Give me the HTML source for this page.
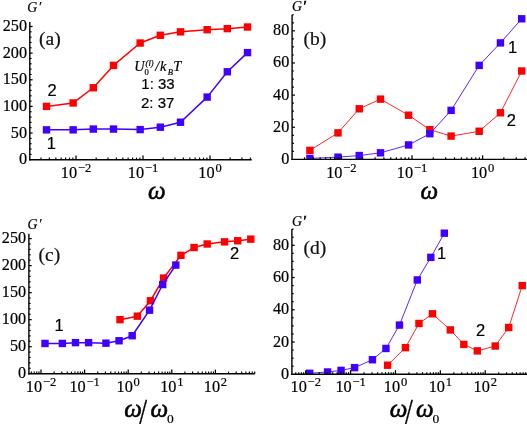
<!DOCTYPE html>
<html><head><meta charset="utf-8"><title>G' vs omega</title>
<style>
html,body{margin:0;padding:0;background:#fff;}
svg{display:block;filter:blur(0.42px)}
text{stroke:#000;stroke-width:0.2px}
.tk{font-family:"Liberation Serif",serif;font-size:16.2px;fill:#000}
.tx{font-family:"Liberation Serif",serif;font-size:16.3px;fill:#000}
.sp{font-size:12.5px}
.sn{font-family:"Liberation Sans",sans-serif;font-size:15px;fill:#000}
.sl{font-family:"Liberation Sans",sans-serif;font-size:16.5px;fill:#000}
.pl{font-family:"Liberation Serif",serif;font-size:19.5px;fill:#111}
.gp{font-family:"Liberation Serif",serif;font-style:italic;font-size:13.8px;fill:#000}
.pr{stroke:#000;stroke-width:0.7px}
.fm{font-family:"Liberation Serif",serif;font-style:italic;font-size:14.3px;fill:#000}
.fs{font-family:"Liberation Serif",serif;font-style:italic;font-size:8.6px;fill:#000}
.om{font-family:"Liberation Serif",serif;font-style:italic;font-size:25px;fill:#000;stroke:#000;stroke-width:0.55px}
.oms{font-family:"Liberation Serif",serif;font-size:13.5px;fill:#000}
.sla{font-family:"Liberation Serif",serif;font-size:35px;fill:#000;stroke:#000;stroke-width:0.4px}
</style></head><body>
<svg width="527" height="424" viewBox="0 0 527 424">
<rect width="527" height="424" fill="#fff"/>
<polyline points="46.50,106.42 73.16,102.96 93.33,87.77 113.50,65.39 140.16,43.02 160.33,35.29 180.50,31.83 207.16,29.70 227.33,28.63 247.50,27.03" fill="none" stroke="#ff0000" stroke-width="1.5" stroke-linejoin="round"/>
<rect x="42.80" y="102.72" width="7.4" height="7.4" fill="#ff0000"/>
<rect x="69.46" y="99.26" width="7.4" height="7.4" fill="#ff0000"/>
<rect x="89.63" y="84.07" width="7.4" height="7.4" fill="#ff0000"/>
<rect x="109.80" y="61.69" width="7.4" height="7.4" fill="#ff0000"/>
<rect x="136.46" y="39.32" width="7.4" height="7.4" fill="#ff0000"/>
<rect x="156.63" y="31.59" width="7.4" height="7.4" fill="#ff0000"/>
<rect x="176.80" y="28.13" width="7.4" height="7.4" fill="#ff0000"/>
<rect x="203.46" y="26.00" width="7.4" height="7.4" fill="#ff0000"/>
<rect x="223.63" y="24.93" width="7.4" height="7.4" fill="#ff0000"/>
<rect x="243.80" y="23.33" width="7.4" height="7.4" fill="#ff0000"/>
<polyline points="46.50,129.86 73.16,129.86 93.33,129.06 113.50,129.06 140.16,129.60 160.33,127.20 180.50,122.24 207.16,97.10 227.33,71.79 247.50,52.61" fill="none" stroke="#4000ff" stroke-width="1.5" stroke-linejoin="round"/>
<rect x="42.80" y="126.16" width="7.4" height="7.4" fill="#4000ff"/>
<rect x="69.46" y="126.16" width="7.4" height="7.4" fill="#4000ff"/>
<rect x="89.63" y="125.36" width="7.4" height="7.4" fill="#4000ff"/>
<rect x="109.80" y="125.36" width="7.4" height="7.4" fill="#4000ff"/>
<rect x="136.46" y="125.90" width="7.4" height="7.4" fill="#4000ff"/>
<rect x="156.63" y="123.50" width="7.4" height="7.4" fill="#4000ff"/>
<rect x="176.80" y="118.54" width="7.4" height="7.4" fill="#4000ff"/>
<rect x="203.46" y="93.40" width="7.4" height="7.4" fill="#4000ff"/>
<rect x="223.63" y="68.09" width="7.4" height="7.4" fill="#4000ff"/>
<rect x="243.80" y="48.91" width="7.4" height="7.4" fill="#4000ff"/>
<rect x="29.8" y="159.7" width="227.89999999999998" height="6" fill="#fff"/>
<line x1="29.8" y1="22" x2="29.8" y2="160.39999999999998" stroke="#000" stroke-width="1.4"/>
<line x1="29.1" y1="159.7" x2="251.7" y2="159.7" stroke="#000" stroke-width="1.4"/>
<text x="27.00" y="164.20" text-anchor="end" class="tk">0</text>
<line x1="29.8" y1="154.37" x2="31.60" y2="154.37" stroke="#000" stroke-width="1.15"/>
<line x1="29.8" y1="149.04" x2="31.60" y2="149.04" stroke="#000" stroke-width="1.15"/>
<line x1="29.8" y1="143.72" x2="31.60" y2="143.72" stroke="#000" stroke-width="1.15"/>
<line x1="29.8" y1="138.39" x2="31.60" y2="138.39" stroke="#000" stroke-width="1.15"/>
<line x1="29.8" y1="133.06" x2="32.60" y2="133.06" stroke="#000" stroke-width="1.25"/>
<text x="27.00" y="137.56" text-anchor="end" class="tk">50</text>
<line x1="29.8" y1="127.73" x2="31.60" y2="127.73" stroke="#000" stroke-width="1.15"/>
<line x1="29.8" y1="122.40" x2="31.60" y2="122.40" stroke="#000" stroke-width="1.15"/>
<line x1="29.8" y1="117.08" x2="31.60" y2="117.08" stroke="#000" stroke-width="1.15"/>
<line x1="29.8" y1="111.75" x2="31.60" y2="111.75" stroke="#000" stroke-width="1.15"/>
<line x1="29.8" y1="106.42" x2="32.60" y2="106.42" stroke="#000" stroke-width="1.25"/>
<text x="27.00" y="110.92" text-anchor="end" class="tk">100</text>
<line x1="29.8" y1="101.09" x2="31.60" y2="101.09" stroke="#000" stroke-width="1.15"/>
<line x1="29.8" y1="95.76" x2="31.60" y2="95.76" stroke="#000" stroke-width="1.15"/>
<line x1="29.8" y1="90.44" x2="31.60" y2="90.44" stroke="#000" stroke-width="1.15"/>
<line x1="29.8" y1="85.11" x2="31.60" y2="85.11" stroke="#000" stroke-width="1.15"/>
<line x1="29.8" y1="79.78" x2="32.60" y2="79.78" stroke="#000" stroke-width="1.25"/>
<text x="27.00" y="84.28" text-anchor="end" class="tk">150</text>
<line x1="29.8" y1="74.45" x2="31.60" y2="74.45" stroke="#000" stroke-width="1.15"/>
<line x1="29.8" y1="69.12" x2="31.60" y2="69.12" stroke="#000" stroke-width="1.15"/>
<line x1="29.8" y1="63.80" x2="31.60" y2="63.80" stroke="#000" stroke-width="1.15"/>
<line x1="29.8" y1="58.47" x2="31.60" y2="58.47" stroke="#000" stroke-width="1.15"/>
<line x1="29.8" y1="53.14" x2="32.60" y2="53.14" stroke="#000" stroke-width="1.25"/>
<text x="27.00" y="57.64" text-anchor="end" class="tk">200</text>
<line x1="29.8" y1="47.81" x2="31.60" y2="47.81" stroke="#000" stroke-width="1.15"/>
<line x1="29.8" y1="42.48" x2="31.60" y2="42.48" stroke="#000" stroke-width="1.15"/>
<line x1="29.8" y1="37.16" x2="31.60" y2="37.16" stroke="#000" stroke-width="1.15"/>
<line x1="29.8" y1="31.83" x2="31.60" y2="31.83" stroke="#000" stroke-width="1.15"/>
<line x1="29.8" y1="26.50" x2="32.60" y2="26.50" stroke="#000" stroke-width="1.25"/>
<text x="27.00" y="31.00" text-anchor="end" class="tk">250</text>
<line x1="40.97" y1="159.7" x2="40.97" y2="157.60" stroke="#000" stroke-width="1.15"/>
<line x1="49.34" y1="159.7" x2="49.34" y2="157.60" stroke="#000" stroke-width="1.15"/>
<line x1="55.83" y1="159.7" x2="55.83" y2="157.60" stroke="#000" stroke-width="1.15"/>
<line x1="61.14" y1="159.7" x2="61.14" y2="157.60" stroke="#000" stroke-width="1.15"/>
<line x1="65.62" y1="159.7" x2="65.62" y2="157.60" stroke="#000" stroke-width="1.15"/>
<line x1="69.51" y1="159.7" x2="69.51" y2="157.60" stroke="#000" stroke-width="1.15"/>
<line x1="72.93" y1="159.7" x2="72.93" y2="157.60" stroke="#000" stroke-width="1.15"/>
<line x1="76.00" y1="159.7" x2="76.00" y2="155.60" stroke="#000" stroke-width="1.25"/>
<text x="76.00" y="177.90" text-anchor="middle" class="tx">10<tspan dy="-6" dx="0.8" class="sp">−2</tspan></text>
<line x1="96.17" y1="159.7" x2="96.17" y2="157.60" stroke="#000" stroke-width="1.15"/>
<line x1="107.97" y1="159.7" x2="107.97" y2="157.60" stroke="#000" stroke-width="1.15"/>
<line x1="116.34" y1="159.7" x2="116.34" y2="157.60" stroke="#000" stroke-width="1.15"/>
<line x1="122.83" y1="159.7" x2="122.83" y2="157.60" stroke="#000" stroke-width="1.15"/>
<line x1="128.14" y1="159.7" x2="128.14" y2="157.60" stroke="#000" stroke-width="1.15"/>
<line x1="132.62" y1="159.7" x2="132.62" y2="157.60" stroke="#000" stroke-width="1.15"/>
<line x1="136.51" y1="159.7" x2="136.51" y2="157.60" stroke="#000" stroke-width="1.15"/>
<line x1="139.93" y1="159.7" x2="139.93" y2="157.60" stroke="#000" stroke-width="1.15"/>
<line x1="143.00" y1="159.7" x2="143.00" y2="155.60" stroke="#000" stroke-width="1.25"/>
<text x="143.00" y="177.90" text-anchor="middle" class="tx">10<tspan dy="-6" dx="0.8" class="sp">−1</tspan></text>
<line x1="163.17" y1="159.7" x2="163.17" y2="157.60" stroke="#000" stroke-width="1.15"/>
<line x1="174.97" y1="159.7" x2="174.97" y2="157.60" stroke="#000" stroke-width="1.15"/>
<line x1="183.34" y1="159.7" x2="183.34" y2="157.60" stroke="#000" stroke-width="1.15"/>
<line x1="189.83" y1="159.7" x2="189.83" y2="157.60" stroke="#000" stroke-width="1.15"/>
<line x1="195.14" y1="159.7" x2="195.14" y2="157.60" stroke="#000" stroke-width="1.15"/>
<line x1="199.62" y1="159.7" x2="199.62" y2="157.60" stroke="#000" stroke-width="1.15"/>
<line x1="203.51" y1="159.7" x2="203.51" y2="157.60" stroke="#000" stroke-width="1.15"/>
<line x1="206.93" y1="159.7" x2="206.93" y2="157.60" stroke="#000" stroke-width="1.15"/>
<line x1="210.00" y1="159.7" x2="210.00" y2="155.60" stroke="#000" stroke-width="1.25"/>
<text x="210.00" y="177.90" text-anchor="middle" class="tx">10<tspan dy="-6" dx="0.8" class="sp">0</tspan></text>
<line x1="230.17" y1="159.7" x2="230.17" y2="157.60" stroke="#000" stroke-width="1.15"/>
<line x1="241.97" y1="159.7" x2="241.97" y2="157.60" stroke="#000" stroke-width="1.15"/>
<line x1="250.34" y1="159.7" x2="250.34" y2="157.60" stroke="#000" stroke-width="1.15"/>
<text x="27.2" y="11.6" class="gp">G<tspan dx="1">′</tspan></text>
<text x="39" y="45" class="pl">(a)</text>
<text x="47.6" y="95.6" class="sl">2</text>
<text x="46.7" y="149" class="sl">1</text>
<text x="158" y="89" class="sn" text-anchor="middle">1: 33</text>
<text x="157.7" y="107.5" class="sn" text-anchor="middle">2: 37</text>
<text x="134.3" y="71.3" class="fm">U</text>
<text x="144.6" y="74.9" class="fs" style="font-style:normal">0</text>
<text x="145.6" y="66" class="fs">(l)</text>
<text x="155.2" y="71.3" class="fm">/</text>
<text x="160" y="71.3" class="fm">k</text>
<text x="167.8" y="74.9" class="fs">B</text>
<text x="173.2" y="71.3" class="fm">T</text>
<text x="148" y="199" class="om">ω</text>
<polyline points="309.90,150.40 337.99,132.88 359.25,108.78 380.50,99.14 408.59,115.21 429.85,129.67 451.10,136.10 479.19,131.28 500.45,112.80 521.70,71.02" fill="none" stroke="#ff0000" stroke-width="0.85" stroke-linejoin="round"/>
<rect x="306.20" y="146.70" width="7.4" height="7.4" fill="#ff0000"/>
<rect x="334.29" y="129.18" width="7.4" height="7.4" fill="#ff0000"/>
<rect x="355.55" y="105.08" width="7.4" height="7.4" fill="#ff0000"/>
<rect x="376.80" y="95.44" width="7.4" height="7.4" fill="#ff0000"/>
<rect x="404.89" y="111.51" width="7.4" height="7.4" fill="#ff0000"/>
<rect x="426.15" y="125.97" width="7.4" height="7.4" fill="#ff0000"/>
<rect x="447.40" y="132.40" width="7.4" height="7.4" fill="#ff0000"/>
<rect x="475.49" y="127.58" width="7.4" height="7.4" fill="#ff0000"/>
<rect x="496.75" y="109.10" width="7.4" height="7.4" fill="#ff0000"/>
<rect x="518.00" y="67.31" width="7.4" height="7.4" fill="#ff0000"/>
<polyline points="309.90,158.44 337.99,157.15 359.25,155.54 380.50,152.81 408.59,144.94 429.85,133.69 451.10,110.39 479.19,65.39 500.45,42.89 521.70,18.79" fill="none" stroke="#4000ff" stroke-width="0.85" stroke-linejoin="round"/>
<rect x="306.20" y="154.74" width="7.4" height="7.4" fill="#4000ff"/>
<rect x="334.29" y="153.45" width="7.4" height="7.4" fill="#4000ff"/>
<rect x="355.55" y="151.84" width="7.4" height="7.4" fill="#4000ff"/>
<rect x="376.80" y="149.11" width="7.4" height="7.4" fill="#4000ff"/>
<rect x="404.89" y="141.24" width="7.4" height="7.4" fill="#4000ff"/>
<rect x="426.15" y="129.99" width="7.4" height="7.4" fill="#4000ff"/>
<rect x="447.40" y="106.69" width="7.4" height="7.4" fill="#4000ff"/>
<rect x="475.49" y="61.69" width="7.4" height="7.4" fill="#4000ff"/>
<rect x="496.75" y="39.19" width="7.4" height="7.4" fill="#4000ff"/>
<rect x="518.00" y="15.09" width="7.4" height="7.4" fill="#4000ff"/>
<rect x="292.1" y="159.4" width="240.89999999999998" height="6" fill="#fff"/>
<line x1="292.1" y1="14.75" x2="292.1" y2="160.1" stroke="#000" stroke-width="1.4"/>
<line x1="291.40000000000003" y1="159.4" x2="527" y2="159.4" stroke="#000" stroke-width="1.4"/>
<text x="289.30" y="163.80" text-anchor="end" class="tk">0</text>
<line x1="292.1" y1="151.37" x2="293.90" y2="151.37" stroke="#000" stroke-width="1.15"/>
<line x1="292.1" y1="143.33" x2="293.90" y2="143.33" stroke="#000" stroke-width="1.15"/>
<line x1="292.1" y1="135.30" x2="293.90" y2="135.30" stroke="#000" stroke-width="1.15"/>
<line x1="292.1" y1="127.26" x2="294.90" y2="127.26" stroke="#000" stroke-width="1.25"/>
<text x="289.30" y="131.66" text-anchor="end" class="tk">20</text>
<line x1="292.1" y1="119.23" x2="293.90" y2="119.23" stroke="#000" stroke-width="1.15"/>
<line x1="292.1" y1="111.19" x2="293.90" y2="111.19" stroke="#000" stroke-width="1.15"/>
<line x1="292.1" y1="103.16" x2="293.90" y2="103.16" stroke="#000" stroke-width="1.15"/>
<line x1="292.1" y1="95.12" x2="294.90" y2="95.12" stroke="#000" stroke-width="1.25"/>
<text x="289.30" y="99.52" text-anchor="end" class="tk">40</text>
<line x1="292.1" y1="87.09" x2="293.90" y2="87.09" stroke="#000" stroke-width="1.15"/>
<line x1="292.1" y1="79.05" x2="293.90" y2="79.05" stroke="#000" stroke-width="1.15"/>
<line x1="292.1" y1="71.02" x2="293.90" y2="71.02" stroke="#000" stroke-width="1.15"/>
<line x1="292.1" y1="62.98" x2="294.90" y2="62.98" stroke="#000" stroke-width="1.25"/>
<text x="289.30" y="67.38" text-anchor="end" class="tk">60</text>
<line x1="292.1" y1="54.95" x2="293.90" y2="54.95" stroke="#000" stroke-width="1.15"/>
<line x1="292.1" y1="46.91" x2="293.90" y2="46.91" stroke="#000" stroke-width="1.15"/>
<line x1="292.1" y1="38.88" x2="293.90" y2="38.88" stroke="#000" stroke-width="1.15"/>
<line x1="292.1" y1="30.84" x2="294.90" y2="30.84" stroke="#000" stroke-width="1.25"/>
<text x="289.30" y="35.24" text-anchor="end" class="tk">80</text>
<line x1="292.1" y1="22.81" x2="293.90" y2="22.81" stroke="#000" stroke-width="1.15"/>
<line x1="292.1" y1="14.77" x2="293.90" y2="14.77" stroke="#000" stroke-width="1.15"/>
<line x1="304.48" y1="159.4" x2="304.48" y2="157.30" stroke="#000" stroke-width="1.15"/>
<line x1="313.31" y1="159.4" x2="313.31" y2="157.30" stroke="#000" stroke-width="1.15"/>
<line x1="320.15" y1="159.4" x2="320.15" y2="157.30" stroke="#000" stroke-width="1.15"/>
<line x1="325.74" y1="159.4" x2="325.74" y2="157.30" stroke="#000" stroke-width="1.15"/>
<line x1="330.46" y1="159.4" x2="330.46" y2="157.30" stroke="#000" stroke-width="1.15"/>
<line x1="334.56" y1="159.4" x2="334.56" y2="157.30" stroke="#000" stroke-width="1.15"/>
<line x1="338.17" y1="159.4" x2="338.17" y2="157.30" stroke="#000" stroke-width="1.15"/>
<line x1="341.40" y1="159.4" x2="341.40" y2="155.30" stroke="#000" stroke-width="1.25"/>
<text x="341.40" y="177.60" text-anchor="middle" class="tx">10<tspan dy="-6" dx="0.8" class="sp">−2</tspan></text>
<line x1="362.65" y1="159.4" x2="362.65" y2="157.30" stroke="#000" stroke-width="1.15"/>
<line x1="375.08" y1="159.4" x2="375.08" y2="157.30" stroke="#000" stroke-width="1.15"/>
<line x1="383.91" y1="159.4" x2="383.91" y2="157.30" stroke="#000" stroke-width="1.15"/>
<line x1="390.75" y1="159.4" x2="390.75" y2="157.30" stroke="#000" stroke-width="1.15"/>
<line x1="396.34" y1="159.4" x2="396.34" y2="157.30" stroke="#000" stroke-width="1.15"/>
<line x1="401.06" y1="159.4" x2="401.06" y2="157.30" stroke="#000" stroke-width="1.15"/>
<line x1="405.16" y1="159.4" x2="405.16" y2="157.30" stroke="#000" stroke-width="1.15"/>
<line x1="408.77" y1="159.4" x2="408.77" y2="157.30" stroke="#000" stroke-width="1.15"/>
<line x1="412.00" y1="159.4" x2="412.00" y2="155.30" stroke="#000" stroke-width="1.25"/>
<text x="412.00" y="177.60" text-anchor="middle" class="tx">10<tspan dy="-6" dx="0.8" class="sp">−1</tspan></text>
<line x1="433.25" y1="159.4" x2="433.25" y2="157.30" stroke="#000" stroke-width="1.15"/>
<line x1="445.68" y1="159.4" x2="445.68" y2="157.30" stroke="#000" stroke-width="1.15"/>
<line x1="454.51" y1="159.4" x2="454.51" y2="157.30" stroke="#000" stroke-width="1.15"/>
<line x1="461.35" y1="159.4" x2="461.35" y2="157.30" stroke="#000" stroke-width="1.15"/>
<line x1="466.94" y1="159.4" x2="466.94" y2="157.30" stroke="#000" stroke-width="1.15"/>
<line x1="471.66" y1="159.4" x2="471.66" y2="157.30" stroke="#000" stroke-width="1.15"/>
<line x1="475.76" y1="159.4" x2="475.76" y2="157.30" stroke="#000" stroke-width="1.15"/>
<line x1="479.37" y1="159.4" x2="479.37" y2="157.30" stroke="#000" stroke-width="1.15"/>
<line x1="482.60" y1="159.4" x2="482.60" y2="155.30" stroke="#000" stroke-width="1.25"/>
<text x="482.60" y="177.60" text-anchor="middle" class="tx">10<tspan dy="-6" dx="0.8" class="sp">0</tspan></text>
<line x1="503.85" y1="159.4" x2="503.85" y2="157.30" stroke="#000" stroke-width="1.15"/>
<line x1="516.28" y1="159.4" x2="516.28" y2="157.30" stroke="#000" stroke-width="1.15"/>
<line x1="525.11" y1="159.4" x2="525.11" y2="157.30" stroke="#000" stroke-width="1.15"/>
<text x="292" y="10.7" class="gp">G<tspan dx="0.8" class="pr">′</tspan></text>
<text x="303.4" y="45.4" class="pl">(b)</text>
<text x="508" y="53.3" class="sl">1</text>
<text x="506.7" y="125.5" class="sl">2</text>
<text x="420.5" y="199" class="om">ω</text>
<polyline points="120.00,319.66 137.35,316.15 150.48,300.75 163.60,278.05 180.95,255.35 194.08,247.52 207.20,244.00 224.55,241.84 237.68,240.76 250.80,239.14" fill="none" stroke="#ff0000" stroke-width="1.5" stroke-linejoin="round"/>
<rect x="116.30" y="315.96" width="7.4" height="7.4" fill="#ff0000"/>
<rect x="133.65" y="312.45" width="7.4" height="7.4" fill="#ff0000"/>
<rect x="146.78" y="297.05" width="7.4" height="7.4" fill="#ff0000"/>
<rect x="159.90" y="274.35" width="7.4" height="7.4" fill="#ff0000"/>
<rect x="177.25" y="251.65" width="7.4" height="7.4" fill="#ff0000"/>
<rect x="190.38" y="243.82" width="7.4" height="7.4" fill="#ff0000"/>
<rect x="203.50" y="240.30" width="7.4" height="7.4" fill="#ff0000"/>
<rect x="220.85" y="238.14" width="7.4" height="7.4" fill="#ff0000"/>
<rect x="233.98" y="237.06" width="7.4" height="7.4" fill="#ff0000"/>
<rect x="247.10" y="235.44" width="7.4" height="7.4" fill="#ff0000"/>
<polyline points="45.00,343.44 62.35,343.44 75.48,342.63 88.60,342.63 105.95,343.17 119.08,340.74 132.20,335.71 149.55,310.20 162.68,284.53 175.80,265.08" fill="none" stroke="#4000ff" stroke-width="1.5" stroke-linejoin="round"/>
<rect x="41.30" y="339.74" width="7.4" height="7.4" fill="#4000ff"/>
<rect x="58.65" y="339.74" width="7.4" height="7.4" fill="#4000ff"/>
<rect x="71.78" y="338.93" width="7.4" height="7.4" fill="#4000ff"/>
<rect x="84.90" y="338.93" width="7.4" height="7.4" fill="#4000ff"/>
<rect x="102.25" y="339.47" width="7.4" height="7.4" fill="#4000ff"/>
<rect x="115.38" y="337.04" width="7.4" height="7.4" fill="#4000ff"/>
<rect x="128.50" y="332.01" width="7.4" height="7.4" fill="#4000ff"/>
<rect x="145.85" y="306.50" width="7.4" height="7.4" fill="#4000ff"/>
<rect x="158.98" y="280.83" width="7.4" height="7.4" fill="#4000ff"/>
<rect x="172.10" y="261.38" width="7.4" height="7.4" fill="#4000ff"/>
<rect x="28.9" y="373.7" width="231.9" height="6" fill="#fff"/>
<line x1="28.9" y1="233.7" x2="28.9" y2="374.4" stroke="#000" stroke-width="1.4"/>
<line x1="28.2" y1="373.7" x2="254.8" y2="373.7" stroke="#000" stroke-width="1.4"/>
<text x="26.10" y="378.20" text-anchor="end" class="tk">0</text>
<line x1="28.9" y1="368.30" x2="30.70" y2="368.30" stroke="#000" stroke-width="1.15"/>
<line x1="28.9" y1="362.89" x2="30.70" y2="362.89" stroke="#000" stroke-width="1.15"/>
<line x1="28.9" y1="357.49" x2="30.70" y2="357.49" stroke="#000" stroke-width="1.15"/>
<line x1="28.9" y1="352.08" x2="30.70" y2="352.08" stroke="#000" stroke-width="1.15"/>
<line x1="28.9" y1="346.68" x2="31.70" y2="346.68" stroke="#000" stroke-width="1.25"/>
<text x="26.10" y="351.18" text-anchor="end" class="tk">50</text>
<line x1="28.9" y1="341.28" x2="30.70" y2="341.28" stroke="#000" stroke-width="1.15"/>
<line x1="28.9" y1="335.87" x2="30.70" y2="335.87" stroke="#000" stroke-width="1.15"/>
<line x1="28.9" y1="330.47" x2="30.70" y2="330.47" stroke="#000" stroke-width="1.15"/>
<line x1="28.9" y1="325.06" x2="30.70" y2="325.06" stroke="#000" stroke-width="1.15"/>
<line x1="28.9" y1="319.66" x2="31.70" y2="319.66" stroke="#000" stroke-width="1.25"/>
<text x="26.10" y="324.16" text-anchor="end" class="tk">100</text>
<line x1="28.9" y1="314.26" x2="30.70" y2="314.26" stroke="#000" stroke-width="1.15"/>
<line x1="28.9" y1="308.85" x2="30.70" y2="308.85" stroke="#000" stroke-width="1.15"/>
<line x1="28.9" y1="303.45" x2="30.70" y2="303.45" stroke="#000" stroke-width="1.15"/>
<line x1="28.9" y1="298.04" x2="30.70" y2="298.04" stroke="#000" stroke-width="1.15"/>
<line x1="28.9" y1="292.64" x2="31.70" y2="292.64" stroke="#000" stroke-width="1.25"/>
<text x="26.10" y="297.14" text-anchor="end" class="tk">150</text>
<line x1="28.9" y1="287.24" x2="30.70" y2="287.24" stroke="#000" stroke-width="1.15"/>
<line x1="28.9" y1="281.83" x2="30.70" y2="281.83" stroke="#000" stroke-width="1.15"/>
<line x1="28.9" y1="276.43" x2="30.70" y2="276.43" stroke="#000" stroke-width="1.15"/>
<line x1="28.9" y1="271.02" x2="30.70" y2="271.02" stroke="#000" stroke-width="1.15"/>
<line x1="28.9" y1="265.62" x2="31.70" y2="265.62" stroke="#000" stroke-width="1.25"/>
<text x="26.10" y="270.12" text-anchor="end" class="tk">200</text>
<line x1="28.9" y1="260.22" x2="30.70" y2="260.22" stroke="#000" stroke-width="1.15"/>
<line x1="28.9" y1="254.81" x2="30.70" y2="254.81" stroke="#000" stroke-width="1.15"/>
<line x1="28.9" y1="249.41" x2="30.70" y2="249.41" stroke="#000" stroke-width="1.15"/>
<line x1="28.9" y1="244.00" x2="30.70" y2="244.00" stroke="#000" stroke-width="1.15"/>
<line x1="28.9" y1="238.60" x2="31.70" y2="238.60" stroke="#000" stroke-width="1.25"/>
<text x="26.10" y="243.10" text-anchor="end" class="tk">250</text>
<line x1="31.33" y1="373.7" x2="31.33" y2="371.60" stroke="#000" stroke-width="1.15"/>
<line x1="34.25" y1="373.7" x2="34.25" y2="371.60" stroke="#000" stroke-width="1.15"/>
<line x1="36.77" y1="373.7" x2="36.77" y2="371.60" stroke="#000" stroke-width="1.15"/>
<line x1="39.00" y1="373.7" x2="39.00" y2="371.60" stroke="#000" stroke-width="1.15"/>
<line x1="41.00" y1="373.7" x2="41.00" y2="369.60" stroke="#000" stroke-width="1.25"/>
<text x="41.00" y="391.90" text-anchor="middle" class="tx">10<tspan dy="-6" dx="0.8" class="sp">−2</tspan></text>
<line x1="54.12" y1="373.7" x2="54.12" y2="371.60" stroke="#000" stroke-width="1.15"/>
<line x1="61.80" y1="373.7" x2="61.80" y2="371.60" stroke="#000" stroke-width="1.15"/>
<line x1="67.25" y1="373.7" x2="67.25" y2="371.60" stroke="#000" stroke-width="1.15"/>
<line x1="71.48" y1="373.7" x2="71.48" y2="371.60" stroke="#000" stroke-width="1.15"/>
<line x1="74.93" y1="373.7" x2="74.93" y2="371.60" stroke="#000" stroke-width="1.15"/>
<line x1="77.85" y1="373.7" x2="77.85" y2="371.60" stroke="#000" stroke-width="1.15"/>
<line x1="80.37" y1="373.7" x2="80.37" y2="371.60" stroke="#000" stroke-width="1.15"/>
<line x1="82.60" y1="373.7" x2="82.60" y2="371.60" stroke="#000" stroke-width="1.15"/>
<line x1="84.60" y1="373.7" x2="84.60" y2="369.60" stroke="#000" stroke-width="1.25"/>
<text x="84.60" y="391.90" text-anchor="middle" class="tx">10<tspan dy="-6" dx="0.8" class="sp">−1</tspan></text>
<line x1="97.72" y1="373.7" x2="97.72" y2="371.60" stroke="#000" stroke-width="1.15"/>
<line x1="105.40" y1="373.7" x2="105.40" y2="371.60" stroke="#000" stroke-width="1.15"/>
<line x1="110.85" y1="373.7" x2="110.85" y2="371.60" stroke="#000" stroke-width="1.15"/>
<line x1="115.08" y1="373.7" x2="115.08" y2="371.60" stroke="#000" stroke-width="1.15"/>
<line x1="118.53" y1="373.7" x2="118.53" y2="371.60" stroke="#000" stroke-width="1.15"/>
<line x1="121.45" y1="373.7" x2="121.45" y2="371.60" stroke="#000" stroke-width="1.15"/>
<line x1="123.97" y1="373.7" x2="123.97" y2="371.60" stroke="#000" stroke-width="1.15"/>
<line x1="126.20" y1="373.7" x2="126.20" y2="371.60" stroke="#000" stroke-width="1.15"/>
<line x1="128.20" y1="373.7" x2="128.20" y2="369.60" stroke="#000" stroke-width="1.25"/>
<text x="128.20" y="391.90" text-anchor="middle" class="tx">10<tspan dy="-6" dx="0.8" class="sp">0</tspan></text>
<line x1="141.32" y1="373.7" x2="141.32" y2="371.60" stroke="#000" stroke-width="1.15"/>
<line x1="149.00" y1="373.7" x2="149.00" y2="371.60" stroke="#000" stroke-width="1.15"/>
<line x1="154.45" y1="373.7" x2="154.45" y2="371.60" stroke="#000" stroke-width="1.15"/>
<line x1="158.68" y1="373.7" x2="158.68" y2="371.60" stroke="#000" stroke-width="1.15"/>
<line x1="162.13" y1="373.7" x2="162.13" y2="371.60" stroke="#000" stroke-width="1.15"/>
<line x1="165.05" y1="373.7" x2="165.05" y2="371.60" stroke="#000" stroke-width="1.15"/>
<line x1="167.57" y1="373.7" x2="167.57" y2="371.60" stroke="#000" stroke-width="1.15"/>
<line x1="169.80" y1="373.7" x2="169.80" y2="371.60" stroke="#000" stroke-width="1.15"/>
<line x1="171.80" y1="373.7" x2="171.80" y2="369.60" stroke="#000" stroke-width="1.25"/>
<text x="171.80" y="391.90" text-anchor="middle" class="tx">10<tspan dy="-6" dx="0.8" class="sp">1</tspan></text>
<line x1="184.92" y1="373.7" x2="184.92" y2="371.60" stroke="#000" stroke-width="1.15"/>
<line x1="192.60" y1="373.7" x2="192.60" y2="371.60" stroke="#000" stroke-width="1.15"/>
<line x1="198.05" y1="373.7" x2="198.05" y2="371.60" stroke="#000" stroke-width="1.15"/>
<line x1="202.28" y1="373.7" x2="202.28" y2="371.60" stroke="#000" stroke-width="1.15"/>
<line x1="205.73" y1="373.7" x2="205.73" y2="371.60" stroke="#000" stroke-width="1.15"/>
<line x1="208.65" y1="373.7" x2="208.65" y2="371.60" stroke="#000" stroke-width="1.15"/>
<line x1="211.17" y1="373.7" x2="211.17" y2="371.60" stroke="#000" stroke-width="1.15"/>
<line x1="213.40" y1="373.7" x2="213.40" y2="371.60" stroke="#000" stroke-width="1.15"/>
<line x1="215.40" y1="373.7" x2="215.40" y2="369.60" stroke="#000" stroke-width="1.25"/>
<text x="215.40" y="391.90" text-anchor="middle" class="tx">10<tspan dy="-6" dx="0.8" class="sp">2</tspan></text>
<line x1="228.52" y1="373.7" x2="228.52" y2="371.60" stroke="#000" stroke-width="1.15"/>
<line x1="236.20" y1="373.7" x2="236.20" y2="371.60" stroke="#000" stroke-width="1.15"/>
<line x1="241.65" y1="373.7" x2="241.65" y2="371.60" stroke="#000" stroke-width="1.15"/>
<line x1="245.88" y1="373.7" x2="245.88" y2="371.60" stroke="#000" stroke-width="1.15"/>
<line x1="249.33" y1="373.7" x2="249.33" y2="371.60" stroke="#000" stroke-width="1.15"/>
<line x1="252.25" y1="373.7" x2="252.25" y2="371.60" stroke="#000" stroke-width="1.15"/>
<line x1="254.77" y1="373.7" x2="254.77" y2="371.60" stroke="#000" stroke-width="1.15"/>
<text x="27.6" y="229.2" class="gp">G<tspan dx="1">′</tspan></text>
<text x="38.6" y="260.5" class="pl">(c)</text>
<text x="54.5" y="331" class="sl">1</text>
<text x="230" y="259" class="sl">2</text>
<text x="124.2" y="417.4" class="om">ω</text>
<text x="139.3" y="423.6" class="sla" transform="translate(139.3 0) scale(0.8 1) translate(-139.3 0)">/</text>
<text x="150.5" y="417.4" class="om">ω</text>
<text x="166.9" y="423" class="oms">0</text>
<polyline points="387.60,365.22 405.46,347.65 418.97,323.47 432.48,313.80 450.34,329.92 463.85,344.43 477.36,350.88 495.22,346.04 508.73,327.50 522.24,285.59" fill="none" stroke="#ff0000" stroke-width="0.85" stroke-linejoin="round"/>
<rect x="383.90" y="361.52" width="7.4" height="7.4" fill="#ff0000"/>
<rect x="401.76" y="343.95" width="7.4" height="7.4" fill="#ff0000"/>
<rect x="415.27" y="319.77" width="7.4" height="7.4" fill="#ff0000"/>
<rect x="428.78" y="310.10" width="7.4" height="7.4" fill="#ff0000"/>
<rect x="446.64" y="326.22" width="7.4" height="7.4" fill="#ff0000"/>
<rect x="460.15" y="340.73" width="7.4" height="7.4" fill="#ff0000"/>
<rect x="473.66" y="347.18" width="7.4" height="7.4" fill="#ff0000"/>
<rect x="491.52" y="342.34" width="7.4" height="7.4" fill="#ff0000"/>
<rect x="505.03" y="323.80" width="7.4" height="7.4" fill="#ff0000"/>
<rect x="518.54" y="281.89" width="7.4" height="7.4" fill="#ff0000"/>
<polyline points="309.70,373.28 327.56,371.99 341.07,370.38 354.58,367.64 372.44,359.74 385.95,348.46 399.46,325.08 417.32,279.95 430.83,257.38 444.34,233.20" fill="none" stroke="#4000ff" stroke-width="0.85" stroke-linejoin="round"/>
<rect x="306.00" y="369.58" width="7.4" height="7.4" fill="#4000ff"/>
<rect x="323.86" y="368.29" width="7.4" height="7.4" fill="#4000ff"/>
<rect x="337.37" y="366.68" width="7.4" height="7.4" fill="#4000ff"/>
<rect x="350.88" y="363.94" width="7.4" height="7.4" fill="#4000ff"/>
<rect x="368.74" y="356.04" width="7.4" height="7.4" fill="#4000ff"/>
<rect x="382.25" y="344.76" width="7.4" height="7.4" fill="#4000ff"/>
<rect x="395.76" y="321.38" width="7.4" height="7.4" fill="#4000ff"/>
<rect x="413.62" y="276.25" width="7.4" height="7.4" fill="#4000ff"/>
<rect x="427.13" y="253.68" width="7.4" height="7.4" fill="#4000ff"/>
<rect x="440.64" y="229.50" width="7.4" height="7.4" fill="#4000ff"/>
<rect x="291.9" y="374.25" width="241.10000000000002" height="6" fill="#fff"/>
<line x1="291.9" y1="229" x2="291.9" y2="374.95" stroke="#000" stroke-width="1.4"/>
<line x1="291.2" y1="374.25" x2="527" y2="374.25" stroke="#000" stroke-width="1.4"/>
<text x="289.10" y="378.95" text-anchor="end" class="tk">0</text>
<line x1="291.9" y1="366.19" x2="293.70" y2="366.19" stroke="#000" stroke-width="1.15"/>
<line x1="291.9" y1="358.13" x2="293.70" y2="358.13" stroke="#000" stroke-width="1.15"/>
<line x1="291.9" y1="350.07" x2="293.70" y2="350.07" stroke="#000" stroke-width="1.15"/>
<line x1="291.9" y1="342.01" x2="294.70" y2="342.01" stroke="#000" stroke-width="1.25"/>
<text x="289.10" y="346.71" text-anchor="end" class="tk">20</text>
<line x1="291.9" y1="333.95" x2="293.70" y2="333.95" stroke="#000" stroke-width="1.15"/>
<line x1="291.9" y1="325.89" x2="293.70" y2="325.89" stroke="#000" stroke-width="1.15"/>
<line x1="291.9" y1="317.83" x2="293.70" y2="317.83" stroke="#000" stroke-width="1.15"/>
<line x1="291.9" y1="309.77" x2="294.70" y2="309.77" stroke="#000" stroke-width="1.25"/>
<text x="289.10" y="314.47" text-anchor="end" class="tk">40</text>
<line x1="291.9" y1="301.71" x2="293.70" y2="301.71" stroke="#000" stroke-width="1.15"/>
<line x1="291.9" y1="293.65" x2="293.70" y2="293.65" stroke="#000" stroke-width="1.15"/>
<line x1="291.9" y1="285.59" x2="293.70" y2="285.59" stroke="#000" stroke-width="1.15"/>
<line x1="291.9" y1="277.53" x2="294.70" y2="277.53" stroke="#000" stroke-width="1.25"/>
<text x="289.10" y="282.23" text-anchor="end" class="tk">60</text>
<line x1="291.9" y1="269.47" x2="293.70" y2="269.47" stroke="#000" stroke-width="1.15"/>
<line x1="291.9" y1="261.41" x2="293.70" y2="261.41" stroke="#000" stroke-width="1.15"/>
<line x1="291.9" y1="253.35" x2="293.70" y2="253.35" stroke="#000" stroke-width="1.15"/>
<line x1="291.9" y1="245.29" x2="294.70" y2="245.29" stroke="#000" stroke-width="1.25"/>
<text x="289.10" y="249.99" text-anchor="end" class="tk">80</text>
<line x1="291.9" y1="237.23" x2="293.70" y2="237.23" stroke="#000" stroke-width="1.15"/>
<line x1="291.9" y1="229.17" x2="293.70" y2="229.17" stroke="#000" stroke-width="1.15"/>
<line x1="295.74" y1="374.25" x2="295.74" y2="372.15" stroke="#000" stroke-width="1.15"/>
<line x1="298.75" y1="374.25" x2="298.75" y2="372.15" stroke="#000" stroke-width="1.15"/>
<line x1="301.35" y1="374.25" x2="301.35" y2="372.15" stroke="#000" stroke-width="1.15"/>
<line x1="303.65" y1="374.25" x2="303.65" y2="372.15" stroke="#000" stroke-width="1.15"/>
<line x1="305.70" y1="374.25" x2="305.70" y2="370.15" stroke="#000" stroke-width="1.25"/>
<text x="305.70" y="392.45" text-anchor="middle" class="tx">10<tspan dy="-6" dx="0.8" class="sp">−2</tspan></text>
<line x1="319.21" y1="374.25" x2="319.21" y2="372.15" stroke="#000" stroke-width="1.15"/>
<line x1="327.11" y1="374.25" x2="327.11" y2="372.15" stroke="#000" stroke-width="1.15"/>
<line x1="332.72" y1="374.25" x2="332.72" y2="372.15" stroke="#000" stroke-width="1.15"/>
<line x1="337.07" y1="374.25" x2="337.07" y2="372.15" stroke="#000" stroke-width="1.15"/>
<line x1="340.62" y1="374.25" x2="340.62" y2="372.15" stroke="#000" stroke-width="1.15"/>
<line x1="343.63" y1="374.25" x2="343.63" y2="372.15" stroke="#000" stroke-width="1.15"/>
<line x1="346.23" y1="374.25" x2="346.23" y2="372.15" stroke="#000" stroke-width="1.15"/>
<line x1="348.53" y1="374.25" x2="348.53" y2="372.15" stroke="#000" stroke-width="1.15"/>
<line x1="350.58" y1="374.25" x2="350.58" y2="370.15" stroke="#000" stroke-width="1.25"/>
<text x="350.58" y="392.45" text-anchor="middle" class="tx">10<tspan dy="-6" dx="0.8" class="sp">−1</tspan></text>
<line x1="364.09" y1="374.25" x2="364.09" y2="372.15" stroke="#000" stroke-width="1.15"/>
<line x1="371.99" y1="374.25" x2="371.99" y2="372.15" stroke="#000" stroke-width="1.15"/>
<line x1="377.60" y1="374.25" x2="377.60" y2="372.15" stroke="#000" stroke-width="1.15"/>
<line x1="381.95" y1="374.25" x2="381.95" y2="372.15" stroke="#000" stroke-width="1.15"/>
<line x1="385.50" y1="374.25" x2="385.50" y2="372.15" stroke="#000" stroke-width="1.15"/>
<line x1="388.51" y1="374.25" x2="388.51" y2="372.15" stroke="#000" stroke-width="1.15"/>
<line x1="391.11" y1="374.25" x2="391.11" y2="372.15" stroke="#000" stroke-width="1.15"/>
<line x1="393.41" y1="374.25" x2="393.41" y2="372.15" stroke="#000" stroke-width="1.15"/>
<line x1="395.46" y1="374.25" x2="395.46" y2="370.15" stroke="#000" stroke-width="1.25"/>
<text x="395.46" y="392.45" text-anchor="middle" class="tx">10<tspan dy="-6" dx="0.8" class="sp">0</tspan></text>
<line x1="408.97" y1="374.25" x2="408.97" y2="372.15" stroke="#000" stroke-width="1.15"/>
<line x1="416.87" y1="374.25" x2="416.87" y2="372.15" stroke="#000" stroke-width="1.15"/>
<line x1="422.48" y1="374.25" x2="422.48" y2="372.15" stroke="#000" stroke-width="1.15"/>
<line x1="426.83" y1="374.25" x2="426.83" y2="372.15" stroke="#000" stroke-width="1.15"/>
<line x1="430.38" y1="374.25" x2="430.38" y2="372.15" stroke="#000" stroke-width="1.15"/>
<line x1="433.39" y1="374.25" x2="433.39" y2="372.15" stroke="#000" stroke-width="1.15"/>
<line x1="435.99" y1="374.25" x2="435.99" y2="372.15" stroke="#000" stroke-width="1.15"/>
<line x1="438.29" y1="374.25" x2="438.29" y2="372.15" stroke="#000" stroke-width="1.15"/>
<line x1="440.34" y1="374.25" x2="440.34" y2="370.15" stroke="#000" stroke-width="1.25"/>
<text x="440.34" y="392.45" text-anchor="middle" class="tx">10<tspan dy="-6" dx="0.8" class="sp">1</tspan></text>
<line x1="453.85" y1="374.25" x2="453.85" y2="372.15" stroke="#000" stroke-width="1.15"/>
<line x1="461.75" y1="374.25" x2="461.75" y2="372.15" stroke="#000" stroke-width="1.15"/>
<line x1="467.36" y1="374.25" x2="467.36" y2="372.15" stroke="#000" stroke-width="1.15"/>
<line x1="471.71" y1="374.25" x2="471.71" y2="372.15" stroke="#000" stroke-width="1.15"/>
<line x1="475.26" y1="374.25" x2="475.26" y2="372.15" stroke="#000" stroke-width="1.15"/>
<line x1="478.27" y1="374.25" x2="478.27" y2="372.15" stroke="#000" stroke-width="1.15"/>
<line x1="480.87" y1="374.25" x2="480.87" y2="372.15" stroke="#000" stroke-width="1.15"/>
<line x1="483.17" y1="374.25" x2="483.17" y2="372.15" stroke="#000" stroke-width="1.15"/>
<line x1="485.22" y1="374.25" x2="485.22" y2="370.15" stroke="#000" stroke-width="1.25"/>
<text x="485.22" y="392.45" text-anchor="middle" class="tx">10<tspan dy="-6" dx="0.8" class="sp">2</tspan></text>
<line x1="498.73" y1="374.25" x2="498.73" y2="372.15" stroke="#000" stroke-width="1.15"/>
<line x1="506.63" y1="374.25" x2="506.63" y2="372.15" stroke="#000" stroke-width="1.15"/>
<line x1="512.24" y1="374.25" x2="512.24" y2="372.15" stroke="#000" stroke-width="1.15"/>
<line x1="516.59" y1="374.25" x2="516.59" y2="372.15" stroke="#000" stroke-width="1.15"/>
<line x1="520.14" y1="374.25" x2="520.14" y2="372.15" stroke="#000" stroke-width="1.15"/>
<line x1="523.15" y1="374.25" x2="523.15" y2="372.15" stroke="#000" stroke-width="1.15"/>
<line x1="525.75" y1="374.25" x2="525.75" y2="372.15" stroke="#000" stroke-width="1.15"/>
<text x="292" y="226.2" class="gp">G<tspan dx="0.8" class="pr">′</tspan></text>
<text x="303.6" y="254.3" class="pl">(d)</text>
<text x="437" y="258.6" class="sl">1</text>
<text x="476" y="336" class="sl">2</text>
<text x="389.8" y="417.4" class="om">ω</text>
<text x="404.9" y="423.6" class="sla" transform="translate(404.9 0) scale(0.8 1) translate(-404.9 0)">/</text>
<text x="416.1" y="417.4" class="om">ω</text>
<text x="432.5" y="423" class="oms">0</text>
</svg>
</body></html>
